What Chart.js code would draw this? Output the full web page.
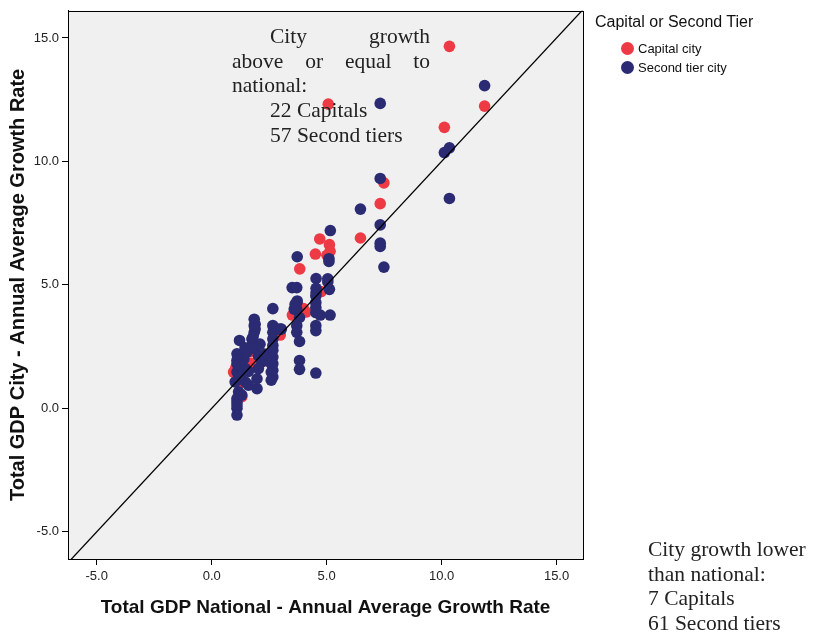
<!DOCTYPE html>
<html>
<head>
<meta charset="utf-8">
<script src="https://cdn.jsdelivr.net/npm/chart.js@4.4.1/dist/chart.umd.min.js"></script>
<style>
  body { margin: 0; background: #fff; }
  #wrap { position: relative; width: 819px; height: 639px; }
  .note { position: absolute; font-family: "Liberation Serif", serif; font-size: 21.5px; color: #222; line-height: 24.7px; }
  .just { text-align: justify; text-align-last: justify; }
  .ind { padding-left: 38px; }
  #legend { position: absolute; left: 595px; top: 13px; font-family: "Liberation Sans", Arial, sans-serif; color: #111; }
  #legend .ttl { font-size: 16px; margin-bottom: 8px; }
  #legend .item { font-size: 13px; height: 19px; line-height: 19px; padding-left: 26px; position: relative; }
  #legend .dot { position: absolute; left: 26px; top: 3px; width: 13px; height: 13px; border-radius: 50%; }
  #legend .item span.t { margin-left: 17px; }
</style>
</head>
<body>
<div id="wrap">
  <canvas id="myChart" width="819" height="639"></canvas>

  <div class="note" style="left:232px; top:24px; width:198px;">
    <div class="just ind">City growth</div>
    <div class="just">above or equal to</div>
    <div>national:</div>
    <div class="ind">22 Capitals</div>
    <div class="ind">57 Second tiers</div>
  </div>

  <div class="note" style="left:648px; top:537px;">
    <div>City growth lower</div>
    <div>than national:</div>
    <div>7 Capitals</div>
    <div>61 Second tiers</div>
  </div>

  <div id="legend">
    <div class="ttl">Capital or Second Tier</div>
    <div class="item"><div class="dot" style="background:#ee3a44"></div><span class="t">Capital city</span></div>
    <div class="item"><div class="dot" style="background:#2b2b73"></div><span class="t">Second tier city</span></div>
  </div>
</div>

<script>
// 首都 (Capital city)
const capitalX = [10.34, 11.87, 5.07, 10.12, 7.49, 7.33, 6.47, 4.70, 5.12, 5.15, 4.51, 5.01, 3.83, 4.76, 3.99, 3.51, 2.98, 2.22, 1.67, 0.95, 1.31, 1.28, 1.05, 2.05, 1.55, 2.90, 1.80, 4.10, 1.20];
const capitalY = [14.66, 12.24, 12.32, 11.38, 9.13, 8.29, 6.90, 6.86, 6.63, 6.36, 6.25, 6.20, 5.65, 4.73, 4.04, 3.78, 2.97, 1.90, 1.84, 1.47, 0.47, 0.54, 1.65, 2.00, 1.75, 3.05, 2.30, 3.90, 1.00];

// 二線都市 (Second tier city)
const secondX = [11.87, 7.33, 10.34, 10.12, 7.33, 10.34, 6.47, 7.33, 7.33, 7.33, 7.49, 5.16, 5.10, 5.10, 3.72, 4.54, 5.05, 5.05, 3.50, 3.70,
                 4.54, 4.54, 5.12, 3.72, 4.53, 4.53, 4.53, 4.53, 4.72, 5.15, 3.70, 3.70, 3.59, 3.63, 3.82, 3.70, 3.70, 3.82, 4.53, 4.53,
                 3.82, 3.82, 4.53, 2.66, 2.66, 2.66, 2.66, 2.66, 2.98, 2.66, 2.66, 2.66, 2.66, 1.85, 1.85, 1.85, 1.89, 1.89, 1.21, 1.75,
                 1.75, 1.89, 1.10, 1.10, 1.10, 1.53, 2.03, 2.18, 2.03, 1.97, 1.97, 2.59, 2.59, 2.59, 2.59, 1.46, 1.46, 1.60, 1.02, 1.17,
                 1.31, 1.10, 1.10, 1.10, 1.10, 1.10, 2.84, 3.03, 2.66, 1.80, 1.40, 1.25, 1.60, 2.30, 1.10, 1.45, 2.10, 1.20];
const secondY = [13.07, 12.35, 10.55, 10.36, 9.31, 8.50, 8.07, 7.43, 6.69, 6.56, 5.72, 7.20, 6.06, 5.95, 6.14, 5.26, 5.25, 5.12, 4.89, 4.89,
                 4.86, 4.69, 4.82, 4.35, 4.55, 4.28, 4.08, 3.88, 3.78, 3.78, 4.28, 4.02, 4.02, 4.22, 3.68, 3.35, 3.08, 2.71, 3.35, 3.15,
                 1.94, 1.58, 1.43, 4.04, 3.35, 3.08, 2.81, 2.55, 3.21, 2.08, 1.81, 1.54, 1.27, 3.61, 3.35, 3.08, 3.41, 3.21, 2.75, 2.81,
                 2.55, 2.41, 2.21, 1.81, 1.47, 2.28, 2.14, 1.88, 1.61, 1.20, 0.80, 2.14, 1.81, 1.47, 1.14, 1.61, 1.07, 0.94, 1.07, 0.67,
                 0.54, 0.27, 0.00, -0.27, 0.40, 0.14, 3.21, 3.21, 2.35, 2.90, 2.00, 1.30, 1.50, 2.20, 1.95, 2.45, 2.60, 1.75];

// y = x の参照線
const refLine = [-7, 17];

const xMin = -6.25, xMax = 16.15;
const yMin = -6.1, yMax = 16.1;

function toPoints(xs, ys) {
    return xs.map((x, i) => ({ x: x, y: ys[i] }));
}

// 描画領域の背景と枠線
const framePlugin = {
    id: 'frame',
    beforeDraw(chart) {
        const { ctx, chartArea: a } = chart;
        ctx.save();
        ctx.fillStyle = '#f0f0f0';
        ctx.fillRect(a.left, a.top, a.right - a.left, a.bottom - a.top);
        ctx.restore();
    },
    afterDraw(chart) {
        const { ctx, chartArea: a } = chart;
        ctx.save();
        ctx.strokeStyle = '#000';
        ctx.lineWidth = 1;
        ctx.strokeRect(Math.round(a.left) + 0.5, Math.round(a.top) + 0.5,
                       Math.round(a.right - a.left), Math.round(a.bottom - a.top));
        ctx.restore();
    }
};

const tickFont = { family: '"Liberation Sans", Arial, sans-serif', size: 13 };

const ctx = document.getElementById('myChart').getContext('2d');
new Chart(ctx, {
    type: 'scatter',
    data: {
        datasets: [
            {
                type: 'line',
                label: 'y = x',
                data: refLine.map(v => ({ x: v, y: v })),
                borderColor: '#000',
                borderWidth: 1.3,
                pointRadius: 0,
                order: 0
            },
            {
                label: 'Second tier city',
                data: toPoints(secondX, secondY),
                backgroundColor: '#2b2b73',
                borderWidth: 0,
                pointRadius: 5.8,
                order: 1
            },
            {
                label: 'Capital city',
                data: toPoints(capitalX, capitalY),
                backgroundColor: '#ee3a44',
                borderWidth: 0,
                pointRadius: 5.8,
                order: 2
            }
        ]
    },
    options: {
        responsive: false,
        animation: false,
        layout: { padding: { top: 7, right: 236, bottom: 0, left: 0 } },
        plugins: {
            legend: { display: false },
            tooltip: { enabled: false }
        },
        scales: {
            x: {
                type: 'linear',
                min: xMin,
                max: xMax,
                afterFit(scale) { scale.height = 80; },
                border: { display: true, color: '#000', width: 1 },
                grid: { drawOnChartArea: false, drawTicks: true, tickLength: 6, color: '#000' },
                ticks: {
                    stepSize: 5,
                    includeBounds: false,
                    padding: 4,
                    color: '#222',
                    font: tickFont,
                    callback: v => v.toFixed(1)
                },
                title: {
                    display: true,
                    text: 'Total GDP National - Annual Average Growth Rate',
                    color: '#111',
                    font: { family: '"Liberation Sans", Arial, sans-serif', size: 19, weight: 'bold' },
                    padding: { top: 0, bottom: 20 }
                }
            },
            y: {
                type: 'linear',
                min: yMin,
                max: yMax,
                afterFit(scale) { scale.width = 68; },
                border: { display: true, color: '#000', width: 1 },
                grid: { drawOnChartArea: false, drawTicks: true, tickLength: 6, color: '#000' },
                ticks: {
                    stepSize: 5,
                    includeBounds: false,
                    padding: 3,
                    color: '#222',
                    font: tickFont,
                    callback: v => v.toFixed(1)
                },
                title: {
                    display: true,
                    text: 'Total GDP City - Annual Average Growth Rate',
                    color: '#111',
                    font: { family: '"Liberation Sans", Arial, sans-serif', size: 20, weight: 'bold' },
                    padding: { top: 6, bottom: 0 }
                }
            }
        }
    },
    plugins: [framePlugin]
});
</script>
</body>
</html>
